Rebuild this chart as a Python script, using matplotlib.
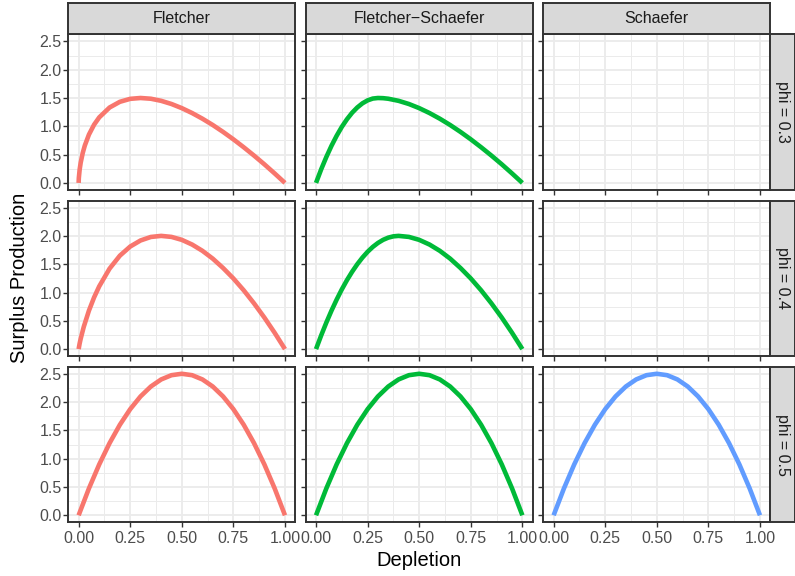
import matplotlib
matplotlib.use("Agg")
import matplotlib.pyplot as plt
from matplotlib.ticker import MultipleLocator

plt.rcParams['font.family'] = ['Liberation Sans', 'DejaVu Sans']

# facet labels
models = ["Fletcher", "Fletcher\u2212Schaefer", "Schaefer"]
phis = [0.3, 0.4, 0.5]
colors = ["#F8766D", "#00BA38", "#619CFF"]

# values, per panel
dep_fl03 = [0, 0.001, 0.005, 0.01, 0.02, 0.03, 0.05, 0.075, 0.1, 0.15, 0.2, 0.25, 0.3,
            0.35, 0.4, 0.45, 0.5, 0.55, 0.6, 0.65, 0.7, 0.75, 0.8, 0.85, 0.9, 0.95, 1.0]
sp_fl03 = [0, 0.086, 0.236, 0.357, 0.530, 0.660, 0.854, 1.029, 1.158, 1.332, 1.433, 1.485, 1.500,
           1.487, 1.450, 1.394, 1.321, 1.234, 1.134, 1.023, 0.901, 0.770, 0.630, 0.483, 0.329, 0.167, 0]

dep_fs03 = [0, 0.025, 0.05, 0.075, 0.1, 0.125, 0.15, 0.175, 0.2, 0.225, 0.25, 0.275, 0.3,
            0.325, 0.35, 0.4, 0.45, 0.5, 0.55, 0.6, 0.65, 0.7, 0.75, 0.8, 0.85, 0.9, 0.95, 1.0]
sp_fs03 = [0, 0.240, 0.458, 0.656, 0.833, 0.990, 1.125, 1.240, 1.333, 1.406, 1.458, 1.490, 1.500,
           1.497, 1.487, 1.450, 1.394, 1.321, 1.234, 1.134, 1.023, 0.901, 0.770, 0.630, 0.483, 0.329, 0.167, 0]

dep_fl04 = [0, 0.005, 0.01, 0.025, 0.05, 0.075, 0.1, 0.15, 0.2, 0.25, 0.3, 0.35, 0.4,
            0.45, 0.5, 0.55, 0.6, 0.65, 0.7, 0.75, 0.8, 0.85, 0.9, 0.95, 1.0]
sp_fl04 = [0, 0.100, 0.183, 0.395, 0.680, 0.914, 1.110, 1.422, 1.651, 1.812, 1.919, 1.981, 2.000,
           1.982, 1.930, 1.847, 1.736, 1.598, 1.433, 1.248, 1.039, 0.808, 0.558, 0.288, 0]

dep_fs04 = [0, 0.025, 0.05, 0.075, 0.1, 0.125, 0.15, 0.175, 0.2, 0.225, 0.25, 0.275, 0.3,
            0.325, 0.35, 0.375, 0.4,
            0.45, 0.5, 0.55, 0.6, 0.65, 0.7, 0.75, 0.8, 0.85, 0.9, 0.95, 1.0]
sp_fs04 = [0, 0.242, 0.469, 0.680, 0.875, 1.055, 1.219, 1.367, 1.500, 1.617, 1.719, 1.805, 1.875,
           1.930, 1.969, 1.992, 2.000,
           1.982, 1.930, 1.847, 1.736, 1.598, 1.433, 1.248, 1.039, 0.808, 0.558, 0.288, 0]

dep_05 = [0, 0.05, 0.1, 0.15, 0.2, 0.25, 0.3, 0.35, 0.4, 0.45, 0.5,
          0.55, 0.6, 0.65, 0.7, 0.75, 0.8, 0.85, 0.9, 0.95, 1.0]
sp_05 = [0, 0.475, 0.900, 1.275, 1.600, 1.875, 2.100, 2.275, 2.400, 2.475, 2.500,
         2.475, 2.400, 2.275, 2.100, 1.875, 1.600, 1.275, 0.900, 0.475, 0]

# (row, col) -> curve; Schaefer only exists for phi = 0.5
curves = {
    (0, 0): (dep_fl03, sp_fl03), (0, 1): (dep_fs03, sp_fs03),
    (1, 0): (dep_fl04, sp_fl04), (1, 1): (dep_fs04, sp_fs04),
    (2, 0): (dep_05, sp_05), (2, 1): (dep_05, sp_05), (2, 2): (dep_05, sp_05),
}

W, H = 795, 576
fig = plt.figure(figsize=(W / 100, H / 100), dpi=100)

col_left = [68.3, 305.7, 543.3]
row_top = [34.3, 200.5, 366.7]
pw, ph = 227, 155.7
border = "#333333"
fs_small = 11.5

for r in range(3):
    for c in range(3):
        ax = fig.add_axes([col_left[c] / W, 1 - (row_top[r] + ph) / H, pw / W, ph / H])
        ax.set_xlim(-0.05, 1.05)
        ax.set_ylim(-0.125, 2.625)
        ax.xaxis.set_major_locator(MultipleLocator(0.25))
        ax.xaxis.set_minor_locator(MultipleLocator(0.125))
        ax.yaxis.set_major_locator(MultipleLocator(0.5))
        ax.yaxis.set_minor_locator(MultipleLocator(0.25))
        ax.grid(which="major", color="#EBEBEB", linewidth=1.3)
        ax.grid(which="minor", color="#EBEBEB", linewidth=0.7)
        ax.set_axisbelow(True)
        for s in ax.spines.values():
            s.set_color(border)
            s.set_linewidth(1.4)
        ax.tick_params(which="major", length=3.6, width=1.0, color=border,
                       labelsize=fs_small, labelcolor="#4D4D4D")
        ax.tick_params(axis="y", pad=1.2)
        ax.tick_params(axis="x", pad=2.5)
        ax.tick_params(which="minor", length=0)
        ax.tick_params(axis="x", labelbottom=(r == 2))
        ax.tick_params(axis="y", labelleft=(c == 0))
        ax.xaxis.set_major_formatter(lambda v, p: f"{v:.2f}")
        ax.yaxis.set_major_formatter(lambda v, p: f"{v:.1f}")

        if (r, c) in curves:
            x, y = curves[(r, c)]
            ax.plot(x, y, color=colors[c], linewidth=3.3, solid_capstyle="butt")

        if r == 0:
            sa = fig.add_axes([col_left[c] / W, 1 - 34.3 / H, pw / W, 31 / H])
            sa.set_facecolor("#D9D9D9")
            sa.set_xticks([])
            sa.set_yticks([])
            for s in sa.spines.values():
                s.set_color(border)
                s.set_linewidth(1.4)
            sa.text(0.5, 0.5, models[c], ha="center", va="center",
                    fontsize=fs_small, color="#1A1A1A", transform=sa.transAxes)
        if c == 2:
            sa = fig.add_axes([770 / W, 1 - (row_top[r] + ph) / H, 24.5 / W, ph / H])
            sa.set_facecolor("#D9D9D9")
            sa.set_xticks([])
            sa.set_yticks([])
            for s in sa.spines.values():
                s.set_color(border)
                s.set_linewidth(1.4)
            sa.text(0.5, 0.5, f"phi = {phis[r]}", ha="center", va="center", rotation=-90,
                    fontsize=fs_small, color="#1A1A1A", transform=sa.transAxes)

fig.text(419.5 / W, 1 - 561 / H, "Depletion", ha="center", va="center", fontsize=14.5)
fig.text(20 / W, 1 - 278 / H, "Surplus Production", ha="center", va="center",
         rotation=90, fontsize=14.5)

fig.savefig("out.png", dpi=100)
